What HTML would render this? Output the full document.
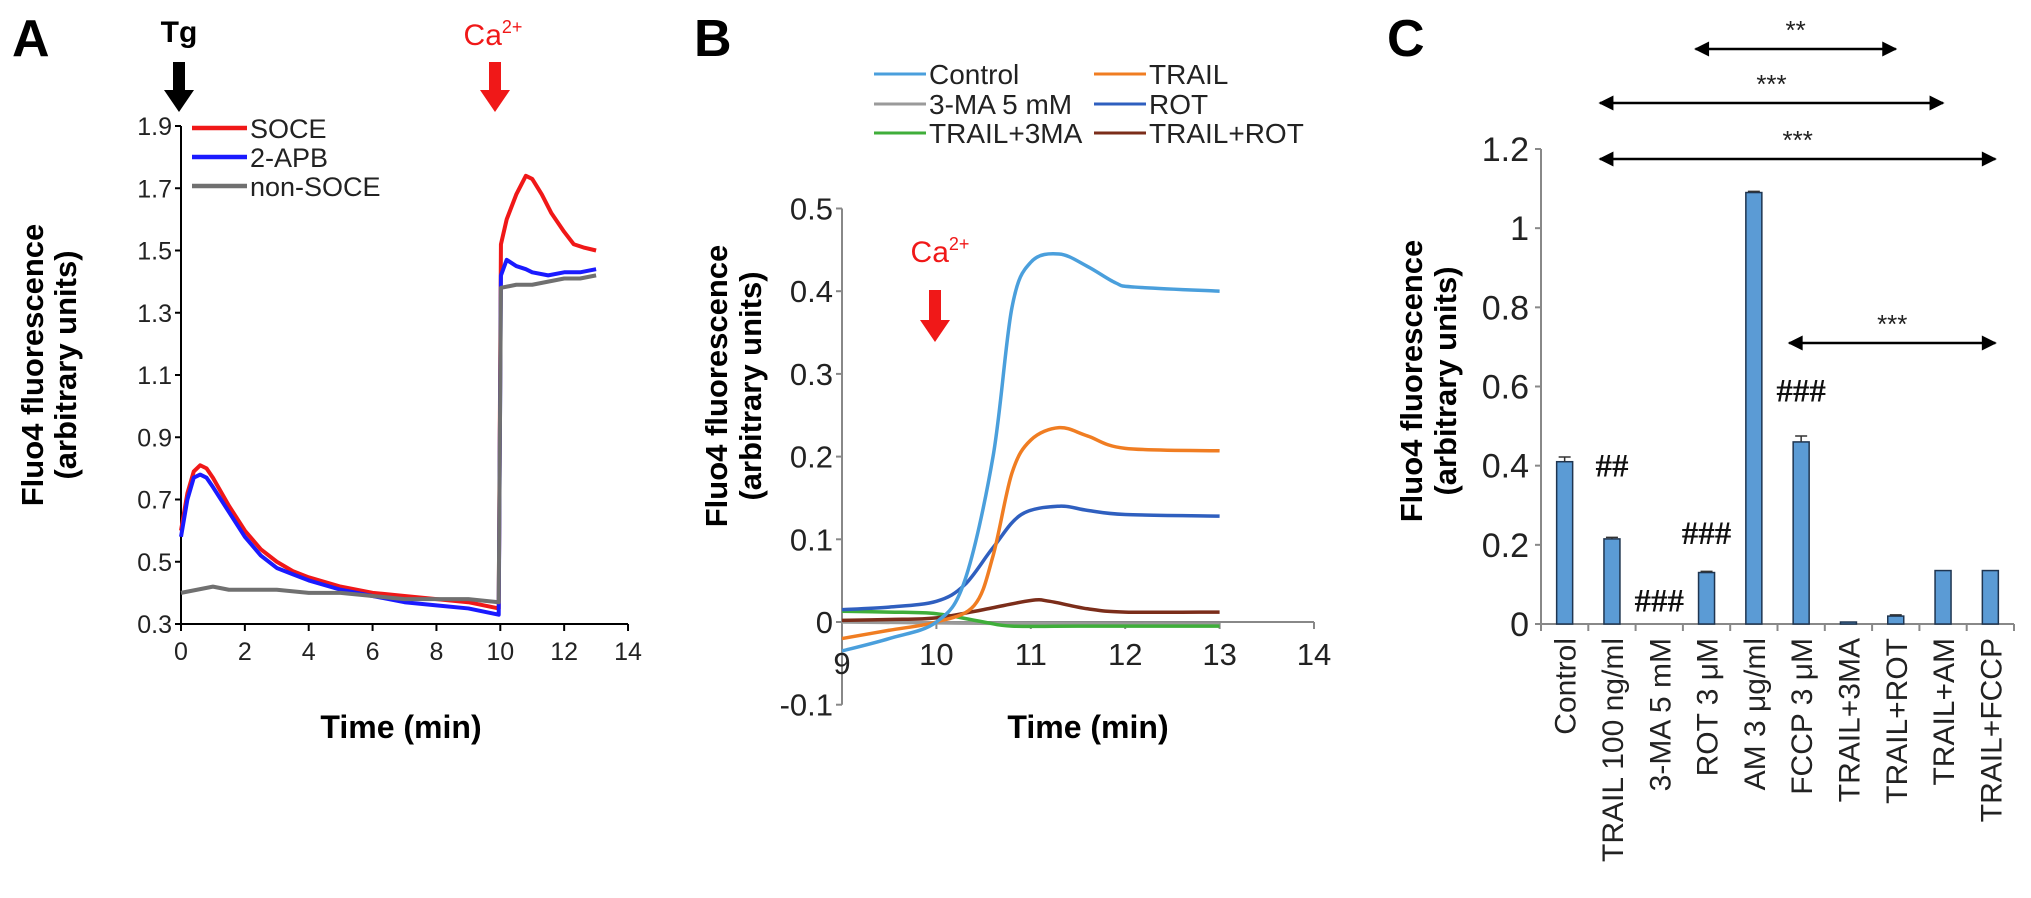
<!DOCTYPE html>
<html><head><meta charset="utf-8">
<style>
html,body{margin:0;padding:0;background:#fff;}
svg{display:block;font-family:"Liberation Sans",Arial,sans-serif;}
</style></head>
<body>
<svg id="fig" width="2031" height="898" viewBox="0 0 2031 898" xmlns="http://www.w3.org/2000/svg">
<defs>
<marker id="ah" viewBox="0 0 10 10" refX="9" refY="5" markerWidth="7" markerHeight="6" markerUnits="strokeWidth" orient="auto-start-reverse"><path d="M0,0 L10,5 L0,10 z" fill="#000"/></marker>
</defs>
<g id="pa"></g>
<g id="pb"></g>
<g id="pc"></g>
</svg>
<script>
// ---------- Panel A data ----------
const aSoceT=[0,0.2,0.4,0.6,0.8,1,1.5,2,2.5,3,3.5,4,5,6,7,8,9,9.95,10.02,10.2,10.5,10.8,11,11.3,11.6,12,12.3,12.6,13];
const aSoceV=[0.60,0.72,0.79,0.81,0.80,0.77,0.68,0.60,0.54,0.50,0.47,0.45,0.42,0.40,0.39,0.38,0.37,0.35,1.52,1.60,1.68,1.74,1.73,1.68,1.62,1.56,1.52,1.51,1.50];
const aApbT=[0,0.2,0.4,0.6,0.8,1,1.5,2,2.5,3,3.5,4,5,6,7,8,9,9.95,10.02,10.2,10.5,10.8,11,11.5,12,12.5,13];
const aApbV=[0.58,0.70,0.77,0.78,0.77,0.74,0.66,0.58,0.52,0.48,0.46,0.44,0.41,0.39,0.37,0.36,0.35,0.33,1.42,1.47,1.45,1.44,1.43,1.42,1.43,1.43,1.44];
const aNonT=[0,0.5,1,1.5,2,3,4,5,6,7,8,9,9.95,10.02,10.5,11,11.5,12,12.5,13];
const aNonV=[0.40,0.41,0.42,0.41,0.41,0.41,0.40,0.40,0.39,0.38,0.38,0.38,0.37,1.38,1.39,1.39,1.40,1.41,1.41,1.42];
const aYTicks=[0.3,0.5,0.7,0.9,1.1,1.3,1.5,1.7,1.9];
const aXTicks=[0,2,4,6,8,10,12,14];
// ---------- Panel B data ----------
const bXTicks=[9,10,11,12,13,14];
const bYTicks=[-0.1,0,0.1,0.2,0.3,0.4,0.5];
const bControlT=[9,9.5,10,10.3,10.6,10.8,11,11.3,11.6,11.9,12.1,13];
const bControlV=[-0.035,-0.02,0.0,0.05,0.2,0.38,0.435,0.445,0.43,0.41,0.405,0.40];
const bTrailT=[9,9.5,10,10.4,10.6,10.8,11,11.3,11.6,12,13];
const bTrailV=[-0.02,-0.01,0.0,0.02,0.08,0.18,0.22,0.235,0.225,0.21,0.207];
const bRotT=[9,9.5,10,10.3,10.6,10.9,11.3,11.6,12,13];
const bRotV=[0.015,0.018,0.025,0.045,0.09,0.13,0.14,0.135,0.13,0.128];
const bMaT=[9,11,13];
const bMaV=[0.0,-0.002,-0.003];
const bTrail3maT=[9,9.5,10,10.5,10.8,11.5,13];
const bTrail3maV=[0.013,0.012,0.01,0.0,-0.005,-0.005,-0.005];
const bTrailRotT=[9,9.5,10,10.5,11,11.2,11.6,12,13];
const bTrailRotV=[0.002,0.003,0.005,0.015,0.026,0.025,0.016,0.012,0.012];
// ---------- Panel C data ----------
const cCats=["Control","TRAIL 100 ng/ml","3-MA 5 mM","ROT 3 μM","AM 3 μg/ml","FCCP 3 μM","TRAIL+3MA","TRAIL+ROT","TRAIL+AM","TRAIL+FCCP"];
const cVals=[0.41,0.215,0,0.13,1.09,0.46,0.005,0.02,0.135,0.135];
const cErrs=[0.012,0.004,0,0.003,0.003,0.015,0,0.003,0,0];
const cYTicks=[0,0.2,0.4,0.6,0.8,1,1.2];
const cYTickLabels=["0","0.2","0.4","0.6","0.8","1","1.2"];
const cHashCats=[1,2,3,5];
const cHashLabels=["##","###","###","###"];
const cHashVals=[0.40,0.06,0.23,0.59];
const cSigFrom=[3,1,1,5];
const cSigTo=[7,8,9,9];
const cSigLabels=["**","***","***","***"];

const NS="http://www.w3.org/2000/svg";
function mk(parent,tag,attrs,text){const e=document.createElementNS(NS,tag);for(const k in attrs)e.setAttribute(k,attrs[k]);if(text!==undefined)e.textContent=text;parent.appendChild(e);return e;}
function smooth(pts){let d="M"+pts[0][0]+","+pts[0][1];for(let i=0;i<pts.length-1;i++){const p0=pts[i-1]||pts[i],p1=pts[i],p2=pts[i+1],p3=pts[i+2]||p2;const c1=[p1[0]+(p2[0]-p0[0])/6,p1[1]+(p2[1]-p0[1])/6],c2=[p2[0]-(p3[0]-p1[0])/6,p2[1]-(p3[1]-p1[1])/6];d+=" C"+c1+" "+c2+" "+p2;}return d;}

// ================= PANEL A =================
(function(){
const g=document.getElementById('pa');
const X=t=>181+t*31.93, Y=v=>624-(v-0.3)*(498/1.6);
let e;
e=mk(g,'text',{x:12,y:56,'font-size':52,'font-weight':'bold'},'A');

e=mk(g,'text',{x:179,y:42,'font-size':30,'font-weight':'bold','text-anchor':'middle'},'Tg');

e=mk(g,'path',{d:'M173,62 h12 v28 h9 l-15,22 l-15,-22 h9 z',fill:'#000'});

e=mk(g,'text',{x:493,y:45,'font-size':30,fill:'#f01818','text-anchor':'middle'});

e.innerHTML='Ca<tspan font-size="18" dy="-12">2+</tspan>';
e=mk(g,'path',{d:'M489,62 h12 v28 h9 l-15,22 l-15,-22 h9 z',fill:'#f01818'});

e=mk(g,'line',{x1:181,y1:126,x2:181,y2:624,stroke:'#000','stroke-width':2});

e=mk(g,'line',{x1:181,y1:624,x2:X(14),y2:624,stroke:'#000','stroke-width':2});

aYTicks.forEach(v=>{
 e=mk(g,'line',{x1:175,y1:Y(v),x2:181,y2:Y(v),stroke:'#000','stroke-width':2});
 
 e=mk(g,'text',{x:172,y:Y(v)+9,'font-size':25,'text-anchor':'end',fill:'#222'},v.toFixed(1));
 
});
aXTicks.forEach(t=>{
 e=mk(g,'line',{x1:X(t),y1:624,x2:X(t),y2:631,stroke:'#000','stroke-width':2});
 
 e=mk(g,'text',{x:X(t),y:660,'font-size':25,'text-anchor':'middle',fill:'#222'},String(t));
 
});
e=mk(g,'text',{x:401,y:738,'font-size':32,'font-weight':'bold','text-anchor':'middle'},'Time (min)');

e=mk(g,'text',{x:0,y:0,'font-size':31,'font-weight':'bold','text-anchor':'middle',transform:'translate(43,365) rotate(-90)'},'Fluo4 fluorescence');

e=mk(g,'text',{x:0,y:0,'font-size':31,'font-weight':'bold','text-anchor':'middle',transform:'translate(76,365) rotate(-90)'},'(arbitrary units)');

const series=[[aSoceT,aSoceV,'#f01818','soce'],[aApbT,aApbV,'#1a1aff','2-apb'],[aNonT,aNonV,'#707070','non-soce']];
series.forEach(s=>{
 const pts=s[0].map((t,i)=>X(t)+','+Y(s[1][i])).join(' ');
 e=mk(g,'polyline',{points:pts,fill:'none',stroke:s[2],'stroke-width':4,'stroke-linejoin':'round'});
 
});
const leg=[['SOCE','#f01818',128],['2-APB','#1a1aff',157],['non-SOCE','#707070',186]];
leg.forEach(l=>{
 e=mk(g,'line',{x1:192,y1:l[2],x2:247,y2:l[2],stroke:l[1],'stroke-width':4.5});
 
 e=mk(g,'text',{x:250,y:l[2]+10,'font-size':27,fill:'#222'},l[0]);
 
});
})();

// ================= PANEL B =================
(function(){
const g=document.getElementById('pb');
const X=t=>842+(t-9)*94.4, Y=v=>622-v*827;
let e;
e=mk(g,'text',{x:694,y:56,'font-size':52,'font-weight':'bold'},'B');

const leg=[['Control','#4a9fdc',874,74],['3-MA 5 mM','#9a9a9a',874,104],['TRAIL+3MA','#3fae3a',874,133],['TRAIL','#f07d22',1094,74],['ROT','#2f5fbf',1094,104],['TRAIL+ROT','#7b2d1a',1094,133]];
leg.forEach(l=>{
 e=mk(g,'line',{x1:l[2],y1:l[3],x2:l[2]+52,y2:l[3],stroke:l[1],'stroke-width':3});
 
 e=mk(g,'text',{x:l[2]+55,y:l[3]+10,'font-size':28,fill:'#222'},l[0]);
 
});
e=mk(g,'line',{x1:842,y1:Y(0.5),x2:842,y2:Y(-0.1),stroke:'#888','stroke-width':2});

e=mk(g,'line',{x1:842,y1:Y(0),x2:X(14),y2:Y(0),stroke:'#888','stroke-width':2});

bYTicks.forEach(v=>{
 e=mk(g,'line',{x1:836,y1:Y(v),x2:842,y2:Y(v),stroke:'#888','stroke-width':2});
 
 e=mk(g,'text',{x:833,y:Y(v)+11,'font-size':31,'text-anchor':'end',fill:'#222'},v===0?'0':String(v));
 
});
bXTicks.forEach(t=>{
 e=mk(g,'line',{x1:X(t),y1:Y(0),x2:X(t),y2:Y(0)+7,stroke:'#888','stroke-width':2});
 
 e=mk(g,'text',{x:X(t),y:Y(0)+(t===9?52:43),'font-size':31,'text-anchor':'middle',fill:'#222'},String(t));
 
});
e=mk(g,'text',{x:1088,y:738,'font-size':32,'font-weight':'bold','text-anchor':'middle'},'Time (min)');

e=mk(g,'text',{x:0,y:0,'font-size':31,'font-weight':'bold','text-anchor':'middle',transform:'translate(727,386) rotate(-90)'},'Fluo4 fluorescence');

e=mk(g,'text',{x:0,y:0,'font-size':31,'font-weight':'bold','text-anchor':'middle',transform:'translate(761,386) rotate(-90)'},'(arbitrary units)');

e=mk(g,'text',{x:940,y:262,'font-size':30,fill:'#f01818','text-anchor':'middle'});

e.innerHTML='Ca<tspan font-size="18" dy="-12">2+</tspan>';
e=mk(g,'path',{d:'M929,290 h12 v30 h9 l-15,22 l-15,-22 h9 z',fill:'#f01818'});

const series=[[bMaT,bMaV,'#9a9a9a','3-ma'],[bTrail3maT,bTrail3maV,'#3fae3a','trail-3ma'],[bTrailRotT,bTrailRotV,'#7b2d1a','trail-rot'],[bRotT,bRotV,'#2f5fbf','rot'],[bTrailT,bTrailV,'#f07d22','trail'],[bControlT,bControlV,'#4a9fdc','control']];
series.forEach(s=>{
 const pts=s[0].map((t,i)=>[X(t),Y(s[1][i])]);
 e=mk(g,'path',{d:smooth(pts),fill:'none',stroke:s[2],'stroke-width':3.5});
 
});
})();

// ================= PANEL C =================
(function(){
const g=document.getElementById('pc');
const x0=1541,x1=2014,n=cCats.length,bw=(x1-x0)/n;
const X=i=>x0+(i+0.5)*bw, Y=v=>624-v*(475/1.2);
let e;
e=mk(g,'text',{x:1387,y:56,'font-size':52,'font-weight':'bold'},'C');

e=mk(g,'line',{x1:x0,y1:Y(1.2),x2:x0,y2:Y(0),stroke:'#888','stroke-width':2});

e=mk(g,'line',{x1:x0,y1:Y(0),x2:x1,y2:Y(0),stroke:'#888','stroke-width':2});

cYTicks.forEach((v,i)=>{
 e=mk(g,'line',{x1:x0-6,y1:Y(v),x2:x0,y2:Y(v),stroke:'#888','stroke-width':2});
 
 e=mk(g,'text',{x:x0-12,y:Y(v)+12,'font-size':34,'text-anchor':'end',fill:'#222'},cYTickLabels[i]);
 
});
for(let i=0;i<=n;i++){
 e=mk(g,'line',{x1:x0+i*bw,y1:Y(0),x2:x0+i*bw,y2:Y(0)+7,stroke:'#888','stroke-width':2});
 
}
cCats.forEach((c,i)=>{
 const v=cVals[i];
 e=mk(g,'rect',{x:X(i)-8,y:Y(v),width:16,height:Math.max(0,Y(0)-Y(v)),fill:'#5b9bd5',stroke:'#1f3550','stroke-width':1.5});
 
 if(cErrs[i]>0){
  e=mk(g,'path',{d:`M${X(i)},${Y(v)} V${Y(v+cErrs[i])} M${X(i)-6},${Y(v+cErrs[i])} H${X(i)+6}`,stroke:'#333','stroke-width':1.5,fill:'none'});
  
 }
 e=mk(g,'text',{x:0,y:0,'font-size':30,'text-anchor':'end',fill:'#222',transform:`translate(${X(i)+11},${Y(0)+14}) rotate(-90)`},c);
 
});
cHashCats.forEach((ci,k)=>{
 e=mk(g,'text',{x:X(ci),y:Y(cHashVals[k])+11,'font-size':33,'font-weight':'bold','font-family':'"Liberation Serif",serif','text-anchor':'middle',fill:'#111'},cHashLabels[k]);
 
});
const sigY=[49,103,159,343];
cSigFrom.forEach((f,k)=>{
 const xa=f===cSigFrom[0]?X(f)-11:X(f)-12, xb=X(cSigTo[k])+(cSigTo[k]===9?5:0);
 e=mk(g,'line',{x1:xa,y1:sigY[k],x2:xb,y2:sigY[k],stroke:'#000','stroke-width':2.5,'marker-start':'url(#ah)','marker-end':'url(#ah)'});
 
 e=mk(g,'text',{x:(xa+xb)/2,y:sigY[k]-10,'font-size':26,'text-anchor':'middle',fill:'#222'},cSigLabels[k]);
 
});
e=mk(g,'text',{x:0,y:0,'font-size':31,'font-weight':'bold','text-anchor':'middle',transform:'translate(1422,381) rotate(-90)'},'Fluo4 fluorescence');

e=mk(g,'text',{x:0,y:0,'font-size':31,'font-weight':'bold','text-anchor':'middle',transform:'translate(1456,381) rotate(-90)'},'(arbitrary units)');

})();
</script>
</body></html>
